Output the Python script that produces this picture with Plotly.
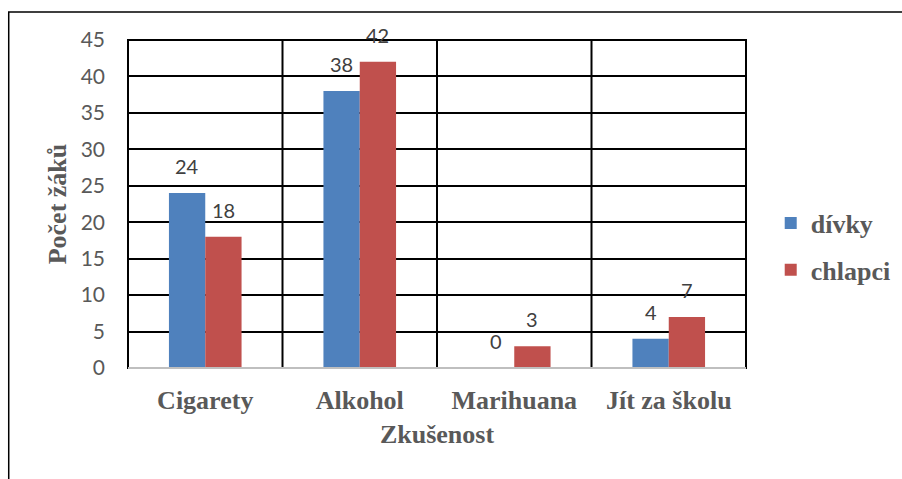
import plotly.graph_objects as go

categories = ["Cigarety", "Alkohol", "Marihuana", "Jít za školu"]
divky = [24, 38, 0, 4]
chlapci = [18, 42, 3, 7]
series_names = ["dívky", "chlapci"]
y_ticks = [0, 5, 10, 15, 20, 25, 30, 35, 40, 45]

BLUE = "#4F81BD"
RED = "#C0504D"
SERIF = "Liberation Serif, Times New Roman, serif"
SANS = "Lato, Carlito, Liberation Sans, sans-serif"
SERIF_BOLD = dict(family=SERIF, size=26, color="#595959", weight="bold")

fig = go.Figure()
for name, vals, col, grp in [(series_names[0], divky, BLUE, "a"), (series_names[1], chlapci, RED, "b")]:
    fig.add_trace(go.Bar(name=name, x=categories, y=vals, marker_color=col,
                         marker_line_width=0, legendgroup=grp))

# data labels above bars
for vals, shift in [(divky, -18), (chlapci, 18)]:
    for c, v in zip(categories, vals):
        fig.add_annotation(x=c, y=v, text=str(v), showarrow=False, xshift=shift,
                           yanchor="bottom", yshift=13,
                           font=dict(family=SANS, size=20, color="#404040"))

# vertical category separators
for i in range(len(categories) - 1):
    fig.add_shape(type="line", xref="x", yref="y", x0=i + 0.5, x1=i + 0.5,
                  y0=0, y1=45, line=dict(color="black", width=2), layer="below")

# outer border
fig.add_shape(type="rect", xref="paper", yref="paper",
              x0=-0.193, x1=1.4, y0=-0.6, y1=1.085,
              line=dict(color="black", width=1.5))

fig.update_layout(
    width=902, height=479,
    margin=dict(l=128, r=156, t=40, b=111, autoexpand=False),
    plot_bgcolor="white", paper_bgcolor="white",
    barmode="group", bargap=0.53, bargroupgap=0,
    legend=dict(x=1.04, y=0.37, xanchor="left", yanchor="middle",
                font=SERIF_BOLD,
                tracegroupgap=10, traceorder="grouped", itemwidth=30),
    showlegend=True,
)
fig.update_xaxes(
    automargin=False,
    showgrid=False, showline=False,
    ticks="", ticklabelstandoff=14,
    tickfont=SERIF_BOLD,
    title=dict(text="Zkušenost", standoff=10, font=SERIF_BOLD),
    range=[-0.5, 3.5],
)
fig.update_yaxes(
    automargin=False,
    range=[0, 45], tickvals=y_ticks, showgrid=True, gridcolor="black", gridwidth=2,
    showline=False, zeroline=False,
    ticks="", ticklabelstandoff=22,
    tickfont=dict(family=SANS, size=21, color="#595959"),
    title=dict(text="Počet žáků", standoff=6, font=SERIF_BOLD),
)
# plot area border
fig.add_shape(type="rect", xref="paper", yref="paper", x0=0, x1=1, y0=0, y1=1,
              line=dict(color="black", width=2), layer="below")
# bottom grey axis line
fig.add_shape(type="line", xref="paper", yref="paper", x0=0, x1=1, y0=0, y1=0,
              line=dict(color="#BFBFBF", width=2))

fig.write_html("out.html", config={"displayModeBar": False},
               post_script="document.body.style.margin='0';document.body.style.overflow='hidden';")
